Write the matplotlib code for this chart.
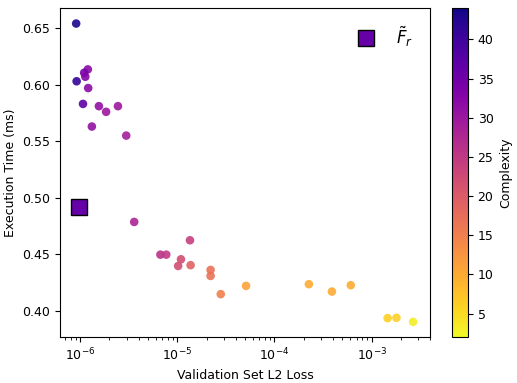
import matplotlib
matplotlib.use('Agg')
import matplotlib.pyplot as plt
import numpy as np

# validation loss, execution time, complexity for each candidate
loss = [9.1e-7, 9.2e-7, 1.2e-6, 1.1e-6, 1.13e-6, 1.21e-6, 1.07e-6, 1.56e-6,
        1.85e-6, 2.45e-6, 1.32e-6, 2.98e-6, 3.6e-6, 1.35e-5, 6.7e-6, 7.7e-6,
        1.09e-5, 1.02e-5, 1.37e-5, 2.2e-5, 2.2e-5, 2.8e-5, 5.1e-5, 2.26e-4,
        3.9e-4, 6.1e-4, 1.46e-3, 1.8e-3, 2.67e-3]
exec_time = [0.654, 0.603, 0.6135, 0.6105, 0.607, 0.597, 0.583, 0.581,
             0.576, 0.581, 0.563, 0.555, 0.4787, 0.4625, 0.4498, 0.4498,
             0.4457, 0.4398, 0.4405, 0.4363, 0.431, 0.4149, 0.4222, 0.4237,
             0.4172, 0.4228, 0.3937, 0.394, 0.3904]
complexity = [43, 41, 32, 34, 33, 32, 37, 31, 30, 30, 31, 29, 28, 24, 26, 25,
              22, 22, 19, 17, 17, 15, 11, 10, 10, 10, 6, 6, 3]

# highlighted model
fr_loss = [9.8e-7]
fr_time = [0.4917]
fr_complexity = 36

fig = plt.figure(figsize=(5.17, 3.83), dpi=100)
ax = fig.add_axes([0.116, 0.12, 0.716, 0.859])
cax = fig.add_axes([0.874, 0.12, 0.031, 0.859])

cmap = plt.get_cmap('plasma_r')
norm = matplotlib.colors.Normalize(vmin=2, vmax=44)

sc = ax.scatter(loss, exec_time, c=complexity, cmap=cmap, norm=norm,
                s=38, alpha=0.9, linewidths=0, zorder=3)
ax.plot(fr_loss, fr_time, 's', markersize=12, color=cmap(norm(fr_complexity)),
        markeredgecolor='black', markeredgewidth=1.0, label=r'$\tilde{F}_r$',
        linestyle='none', zorder=4)

ax.set_xscale('log')
ax.set_xlim(6.2e-7, 4e-3)
ax.set_ylim(0.377, 0.6677)
ax.set_yticks([0.40, 0.45, 0.50, 0.55, 0.60, 0.65])
ax.set_xlabel('Validation Set L2 Loss', fontsize=9)
ax.set_ylabel('Execution Time (ms)', fontsize=9)
ax.tick_params(labelsize=9)

ax.legend(loc='upper right', frameon=False, fontsize=12, handletextpad=0.8,
          borderaxespad=0.6)

cb = fig.colorbar(sc, cax=cax)
cb.solids.set_alpha(1)
cb.set_ticks([5, 10, 15, 20, 25, 30, 35, 40])
cb.ax.tick_params(labelsize=9)
cb.set_label('Complexity', fontsize=9)

fig.savefig('out.png', dpi=100)
